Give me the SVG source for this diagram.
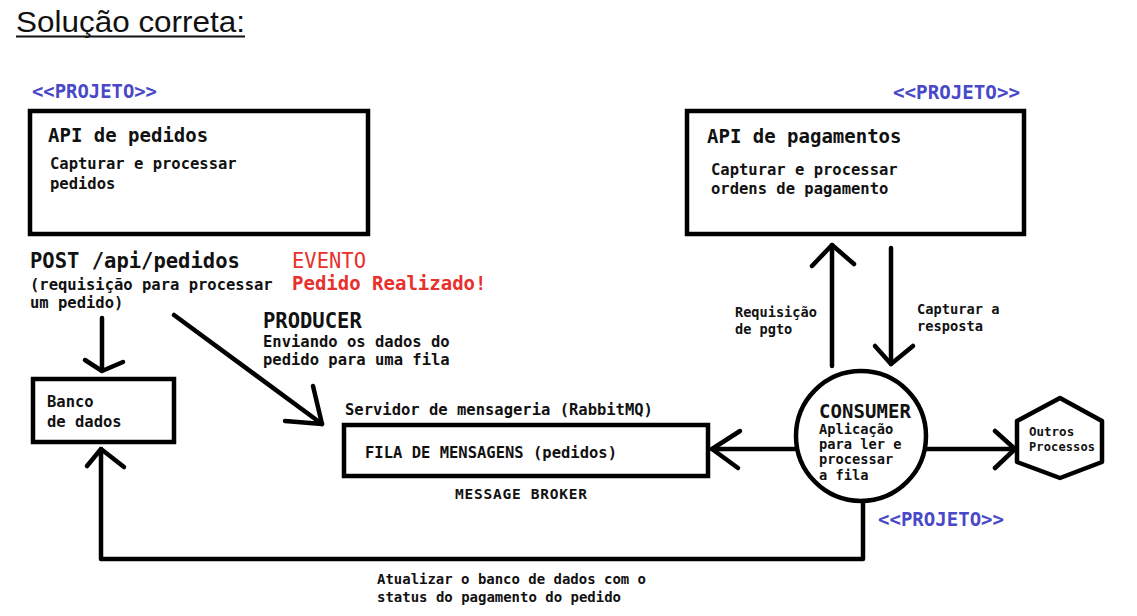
<svg xmlns="http://www.w3.org/2000/svg" width="1137" height="616" viewBox="0 0 1137 616">
<style>
.t{font-family:"DejaVu Sans Mono","Liberation Mono",monospace;font-weight:bold;fill:#111}
.box{fill:#fff;stroke:#000;stroke-width:4.5}
.ln{fill:none;stroke:#000;stroke-width:4.5;stroke-linecap:round;stroke-linejoin:round}
.proj{font-family:"DejaVu Sans Mono",monospace;font-weight:bold;fill:#4848c8;font-size:19px}
.red{font-family:"DejaVu Sans Mono",monospace;fill:#e8302c}
</style>
<rect width="1137" height="616" fill="#fff"/>
<g id="title">
<text x="16" y="32" font-family="Liberation Sans, Arial, sans-serif" font-size="29" textLength="229" lengthAdjust="spacingAndGlyphs" fill="#111">Solução correta:</text>
<line x1="16" y1="36.5" x2="245" y2="36.5" stroke="#111" stroke-width="1.8"/>
</g>
<g id="api-pedidos">
<text class="proj" x="32" y="98" textLength="125" lengthAdjust="spacingAndGlyphs">&lt;&lt;PROJETO&gt;&gt;</text>
<rect class="box" x="30" y="111" width="338" height="123"/>
<text class="t" x="48" y="142" font-size="19">API de pedidos</text>
<text class="t" x="50" y="169" font-size="15.5">Capturar e processar</text>
<text class="t" x="50" y="189" font-size="15.5">pedidos</text>
</g>
<g id="api-pagamentos">
<text class="proj" x="893" y="99" textLength="127" lengthAdjust="spacingAndGlyphs">&lt;&lt;PROJETO&gt;&gt;</text>
<rect class="box" x="687" y="111" width="337" height="123"/>
<text class="t" x="707" y="143" font-size="19">API de pagamentos</text>
<text class="t" x="711" y="175" font-size="15.5">Capturar e processar</text>
<text class="t" x="711" y="194" font-size="15.5">ordens de pagamento</text>
</g>
<g id="post-label">
<text class="t" x="30" y="268" font-size="20.5">POST /api/pedidos</text>
<text class="t" x="30" y="290" font-size="15.5">(requisição para processar</text>
<text class="t" x="30" y="308" font-size="15.5">um pedido)</text>
</g>
<g id="evento">
<text class="red" x="292" y="268" font-size="20.5">EVENTO</text>
<text class="red" x="292" y="290" font-size="19" font-weight="bold">Pedido Realizado!</text>
</g>
<g id="producer">
<text class="t" x="263" y="328" font-size="20.5" font-weight="normal">PRODUCER</text>
<text class="t" x="263" y="347" font-size="15.5">Enviando os dados do</text>
<text class="t" x="263" y="365" font-size="15.5">pedido para uma fila</text>
</g>
<g id="banco">
<rect class="box" x="33" y="379" width="141" height="63"/>
<text class="t" x="47" y="407" font-size="15.5">Banco</text>
<text class="t" x="47" y="427" font-size="15.5">de dados</text>
</g>
<g id="fila">
<text class="t" x="345" y="415" font-size="15.5">Servidor de mensageria (RabbitMQ)</text>
<rect class="box" x="344" y="425" width="364" height="51"/>
<text class="t" x="365" y="458" font-size="15.5" font-weight="normal">FILA DE MENSAGENS (pedidos)</text>
<text class="t" x="455" y="499" font-size="14.5" textLength="132">MESSAGE BROKER</text>
</g>
<g id="consumer">
<circle cx="861" cy="436" r="65" fill="#fff" stroke="#000" stroke-width="4.5"/>
<text class="t" x="819" y="418" font-size="19" font-weight="normal" textLength="92">CONSUMER</text>
<text class="t" x="819" y="434" font-size="13.7">Aplicação</text>
<text class="t" x="819" y="449" font-size="13.7">para ler e</text>
<text class="t" x="819" y="464" font-size="13.7">processar</text>
<text class="t" x="819" y="480" font-size="13.7">a fila</text>
<text class="proj" x="878" y="526" textLength="126" lengthAdjust="spacingAndGlyphs">&lt;&lt;PROJETO&gt;&gt;</text>
</g>
<g id="outros">
<polygon points="1060,398 1102,421 1102,462 1060,478 1017,462 1017,421" fill="#fff" stroke="#000" stroke-width="4.5" stroke-linejoin="round"/>
<text class="t" x="1029" y="436" font-size="12.5">Outros</text>
<text class="t" x="1029" y="451" font-size="12" textLength="66">Processos</text>
</g>
<g id="connectors">
<path class="ln" d="M102,318 V370"/>
<polyline class="ln" points="85,360 102,371 123,362"/>
<path class="ln" d="M174,315 L322,424"/>
<polyline class="ln" points="313,386 322,424 285,421"/>
<path class="ln" d="M832,366 V245"/>
<polyline class="ln" points="812,266 832,245 854,264"/>
<path class="ln" d="M891,248 V364"/>
<polyline class="ln" points="875,346 891,364 913,346"/>
<path class="ln" d="M796,449 H712"/>
<polyline class="ln" points="740,431 712,449 738,468"/>
<path class="ln" d="M926,449 H1015"/>
<polyline class="ln" points="995,431 1015,449 995,468"/>
<path class="ln" d="M863,501 V559 H101 V449"/>
<polyline class="ln" points="87,466 101,449 124,467"/>
</g>
<g id="labels">
<text class="t" x="735" y="317" font-size="13.6">Requisição</text>
<text class="t" x="735" y="334" font-size="13.6">de pgto</text>
<text class="t" x="917" y="314" font-size="13.7">Capturar a</text>
<text class="t" x="917" y="331" font-size="13.7">resposta</text>
<text class="t" x="377" y="584" font-size="14" font-weight="normal" textLength="269" lengthAdjust="spacingAndGlyphs">Atualizar o banco de dados com o</text>
<text class="t" x="377" y="602" font-size="14" font-weight="normal" textLength="244" lengthAdjust="spacingAndGlyphs">status do pagamento do pedido</text>
</g>
</svg>
